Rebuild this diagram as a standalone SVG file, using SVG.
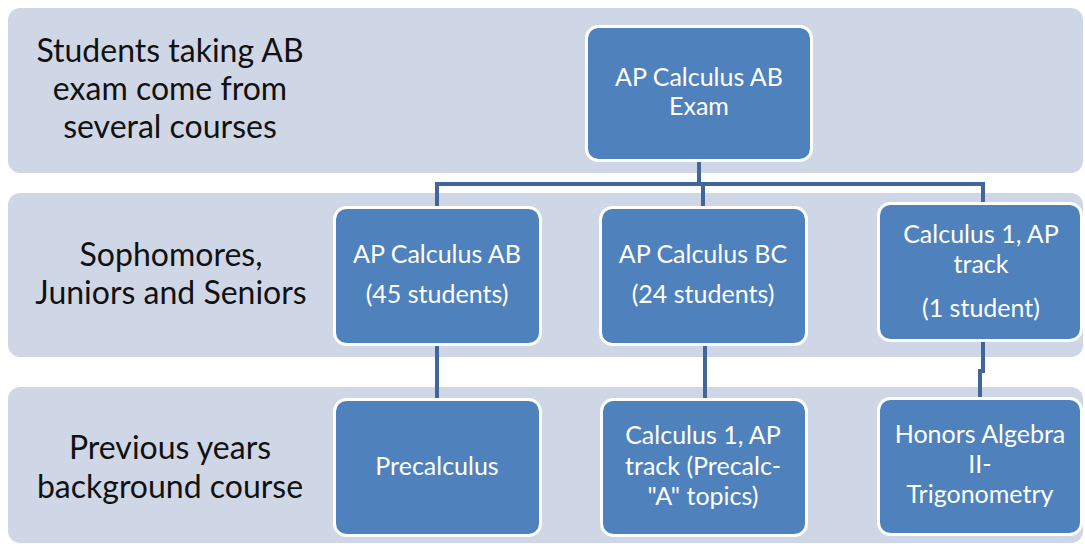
<svg xmlns="http://www.w3.org/2000/svg" width="1085" height="544" viewBox="0 0 1085 544">
<style>
.band{fill:#cfd7e7}
.node rect{fill:#4f81bd;stroke:#ffffff;stroke-width:3}
.node text{fill:#ffffff;font-family:Lato,"Noto Sans",sans-serif;font-size:25px;text-anchor:middle}
.label text{fill:#111111;font-family:Lato,"Noto Sans",sans-serif;font-size:32px;text-anchor:middle}
.conn{fill:none;stroke:#41679a;stroke-width:4}
</style>
<rect width="1085" height="544" fill="#ffffff"/>
<g id="band1"><rect class="band" x="8" y="8" width="1075" height="165" rx="12"/></g>
<g id="band2"><rect class="band" x="8" y="193" width="1075" height="164" rx="12"/></g>
<g id="band3"><rect class="band" x="8" y="387" width="1075" height="156" rx="12"/></g>
<g id="label1" class="label"><text x="170" y="62">Students taking AB</text><text x="170" y="100">exam come from</text><text x="170" y="138">several courses</text></g>
<g id="label2" class="label"><text x="171" y="266">Sophomores,</text><text x="171" y="304">Juniors and Seniors</text></g>
<g id="label3" class="label"><text x="170" y="459">Previous years</text><text x="170" y="498">background course</text></g>
<g id="connectors">
<path class="conn" d="M699 162 V184"/>
<path class="conn" d="M437 206 V184 H983 V203"/>
<path class="conn" d="M703 184 V206"/>
<path class="conn" d="M437 346 V398"/>
<path class="conn" d="M705 346 V398"/>
<path class="conn" d="M983 342 V371 H980 V397"/>
</g>
<g id="exam" class="node"><rect x="586.5" y="26.5" width="225" height="134" rx="12"/><text x="699" y="86">AP Calculus AB</text><text x="699" y="115">Exam</text></g>
<g id="apab" class="node"><rect x="334.5" y="207.5" width="206" height="137" rx="12"/><text x="437" y="263">AP Calculus AB</text><text x="437" y="303">(45 students)</text></g>
<g id="apbc" class="node"><rect x="600.5" y="207.5" width="206" height="137" rx="12"/><text x="703" y="263">AP Calculus BC</text><text x="703" y="303">(24 students)</text></g>
<g id="calc1" class="node"><rect x="878.5" y="203.5" width="203" height="137" rx="12"/><text x="981" y="243">Calculus 1, AP</text><text x="981" y="273">track</text><text x="981" y="317">(1 student)</text></g>
<g id="precalc" class="node"><rect x="334.5" y="399.5" width="206" height="136" rx="12"/><text x="437" y="475">Precalculus</text></g>
<g id="calc1pre" class="node"><rect x="601.5" y="399.5" width="205" height="136" rx="12"/><text x="703" y="444">Calculus 1, AP</text><text x="703" y="475">track (Precalc-</text><text x="703" y="505">"A" topics)</text></g>
<g id="honors" class="node"><rect x="878.5" y="398.5" width="203" height="136" rx="12"/><text x="980" y="443">Honors Algebra</text><text x="980" y="473">II-</text><text x="980" y="503">Trigonometry</text></g>
</svg>
